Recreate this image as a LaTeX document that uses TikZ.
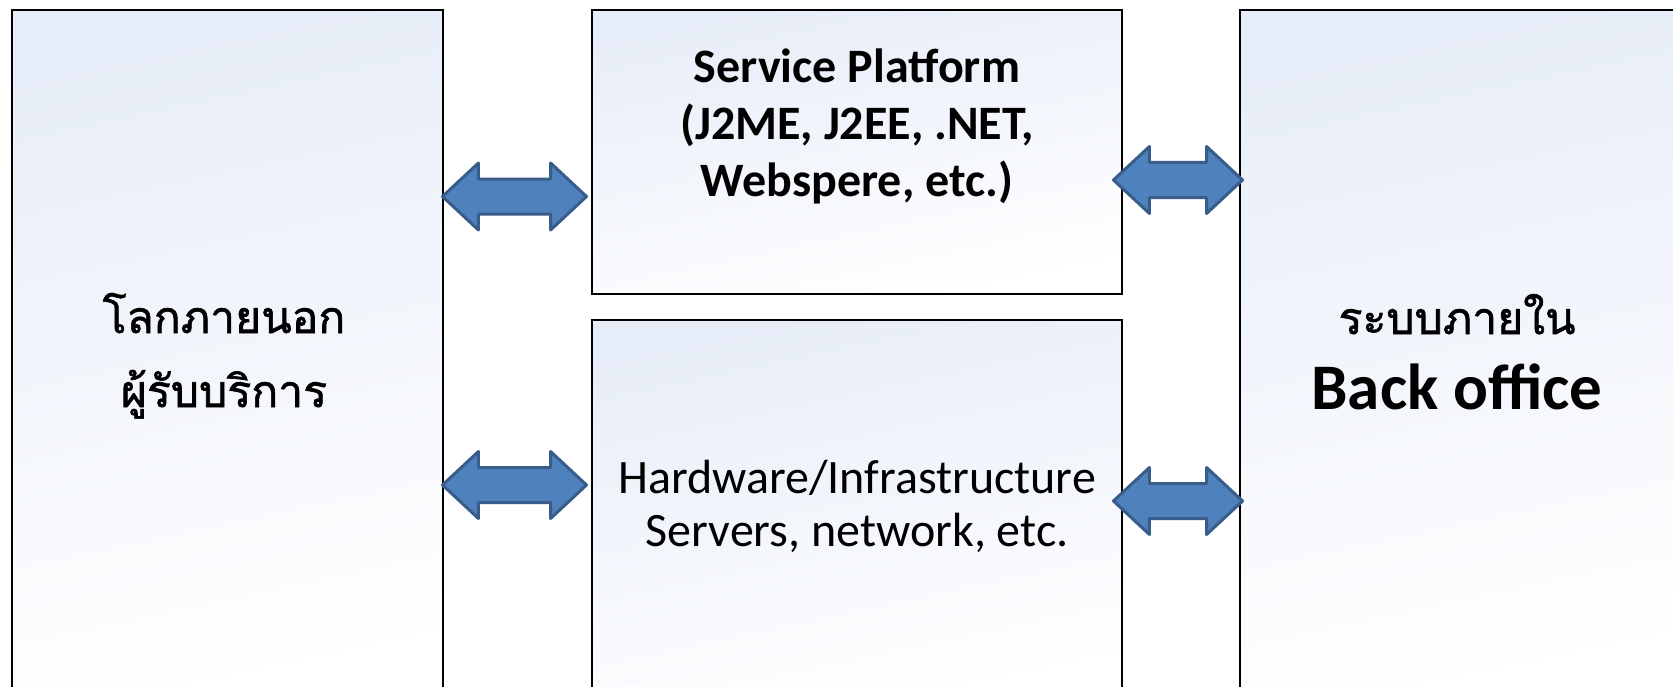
\documentclass[tikz,border=0pt]{standalone}
\usepackage{fontspec}
\setmainfont{Carlito}
\newfontfamily\thaifont[Script=Thai, FakeBold=1.4]{Loma}
\usetikzlibrary{shapes.arrows}
\definecolor{arrowfill}{RGB}{79,129,189}
\definecolor{arrowline}{RGB}{56,93,138}
\definecolor{boxtop}{RGB}{231,237,248}
\definecolor{boxmid}{RGB}{246,248,252}
\begin{document}
\begin{tikzpicture}[x=1bp,y=-1bp,
  panel/.style={draw=black, line width=2bp, anchor=north west, inner sep=0pt, outer sep=0pt,
    shading=axis, top color=boxtop, middle color=boxmid, bottom color=white, shading angle=12},
  dblarr/.style={double arrow, draw=arrowline, fill=arrowfill, line width=3bp, line join=round,
    inner xsep=0pt, inner ysep=16bp, outer sep=0pt, double arrow head extend=16bp,
    double arrow tip angle=86},
  latin/.style={anchor=base, inner sep=0pt, font=\fontsize{48bp}{50bp}\selectfont},
  latinb/.style={latin, font=\fontsize{48bp}{50bp}\selectfont\bfseries},
  thai/.style={anchor=base, inner sep=0pt, font=\fontsize{44.5bp}{46bp}\selectfont\thaifont}]
\useasboundingbox (0,0) rectangle (1673,687);
\clip (0,0) rectangle (1673,687);
\fill[white] (0,0) rectangle (1673,687);
% panels
\node[panel, minimum width=431bp, minimum height=700bp] (outer) at (12,10) {};
\node[panel, minimum width=530bp, minimum height=284bp] (platform) at (592,10) {};
\node[panel, minimum width=530bp, minimum height=380bp] (hardware) at (592,320) {};
\node[panel, minimum width=440bp, minimum height=700bp] (backoffice) at (1240,10) {};
% arrows
\node[dblarr, minimum height=144bp] (a1) at (514.5,196.5) {};
\node[dblarr, minimum height=144bp] (a2) at (514.5,485) {};
\node[dblarr, minimum height=129bp] (a3) at (1178,180) {};
\node[dblarr, minimum height=129bp] (a4) at (1178,501) {};
% texts
\node[thai] (o1) at (224,333) {โลกภายนอก};
\node[thai] (o2) at (224,407) {ผู้รับบริการ};
\node[latinb] (p1) at (857,83) {Service Platform};
\node[latinb] (p2) at (857,140) {(J2ME, J2EE, .NET,};
\node[latinb] (p3) at (857,196) {Webspere, etc.)};
\node[latin] (h1) at (857,493) {Hardware/Infrastructure};
\node[latin] (h2) at (857,546) {Servers, network, etc.};
\node[thai] (b1) at (1457,334) {ระบบภายใน};
\node[anchor=base, inner sep=0pt, font=\fontsize{65bp}{68bp}\selectfont\bfseries] (b2) at (1457,409) {Back office};
\end{tikzpicture}
\end{document}
